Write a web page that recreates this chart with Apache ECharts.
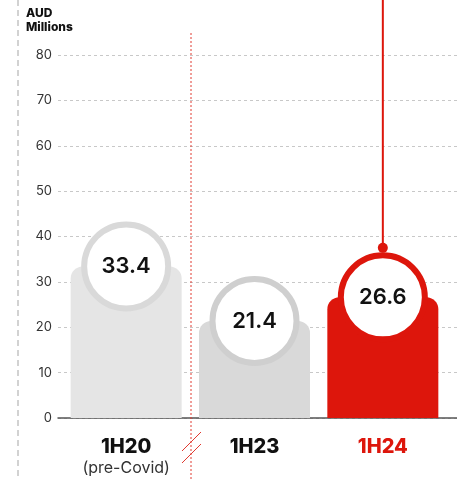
<!DOCTYPE html>
<html><head><meta charset="utf-8">
<script src="https://cdn.jsdelivr.net/npm/echarts@6/dist/echarts.min.js"></script>
<style>html,body{margin:0;padding:0;background:#fff}#c{width:457px;height:480px}</style>
</head><body><div id="c"></div>
<script>
const categories = ['1H20', '1H23', '1H24'];
const subLabels = ['(pre-Covid)', '', ''];
const values = [33.4, 21.4, 26.6];
const barColors = ['#e5e5e5', '#d9d9d9', '#dd160c'];
const ringColors = ['#d9d9d9', '#cfcfcf', '#dd160c'];
const labelColors = ['#111', '#111', '#dd160c'];
const yMax = 80, yInterval = 10;
const pinValue = 37.5;

const RED = '#dd160c';
const FONT = 'Inter, "Open Sans", sans-serif';
const gridTop = 55, gridBottom = 62, H = 480;
const topValue = yMax * (H - gridBottom) / (H - gridBottom - gridTop);

const chart = echarts.init(document.getElementById('c'), null, {renderer: 'canvas'});
chart.setOption({
  animation: false,
  backgroundColor: '#fff',
  textStyle: {fontFamily: FONT},
  title: {
    text: 'AUD\nMillions', left: 21, top: 1,
    textStyle: {fontSize: 12, fontWeight: 800, color: '#111', lineHeight: 14, fontFamily: FONT}
  },
  grid: [
    {left: 58, right: 0, top: gridTop, bottom: gridBottom},
    {left: 62, right: 10, top: 0, bottom: gridBottom}
  ],
  xAxis: [
    {gridIndex: 0, type: 'category', data: [''], axisTick: {show: false}, axisLabel: {show: false},
     axisLine: {lineStyle: {color: '#555', width: 1.5}}},
    {gridIndex: 1, type: 'category', data: categories.map((c, i) => ({value: c})),
     axisLine: {show: false}, axisTick: {show: false},
     axisLabel: {
       margin: 17,
       formatter: (v, i) => subLabels[i] ? '{b' + i + '|' + v + '}\n{s|' + subLabels[i] + '}' : '{b' + i + '|' + v + '}',
       rich: Object.assign({
         s: {fontSize: 16, color: '#333', lineHeight: 20, fontFamily: FONT}
       }, ...categories.map((c, i) => ({['b' + i]: {fontSize: 20, fontWeight: 800, color: labelColors[i], lineHeight: 23, fontFamily: FONT}})))
     }}
  ],
  yAxis: [
    {gridIndex: 0, type: 'value', min: 0, max: yMax, interval: yInterval,
     axisLine: {show: false}, axisTick: {show: false},
     axisLabel: {margin: 6, fontSize: 13, color: '#333', fontFamily: FONT},
     splitLine: {lineStyle: {color: '#c8c8c8', type: [3, 3], width: 1}}},
    {gridIndex: 1, type: 'value', min: 0, max: topValue, show: false, splitLine: {show: false}}
  ],
  graphic: [
    {type: 'line', shape: {x1: 18, y1: 0, x2: 18, y2: 480}, style: {stroke: '#d2d2d2', lineWidth: 2, lineDash: [6, 4]}, z: 1},
    {type: 'line', shape: {x1: 191, y1: 33, x2: 191, y2: 480}, style: {stroke: '#e03a30', lineWidth: 1, lineDash: [2, 2]}, z: 10},
    {type: 'line', shape: {x1: 182, y1: 451, x2: 201, y2: 432}, style: {stroke: '#e03a30', lineWidth: 1}, z: 10},
    {type: 'line', shape: {x1: 182, y1: 463, x2: 201, y2: 444}, style: {stroke: '#e03a30', lineWidth: 1}, z: 10}
  ],
  series: [
    {type: 'bar', xAxisIndex: 1, yAxisIndex: 1, barWidth: 111, z: 2,
     data: values.map((v, i) => ({value: v, itemStyle: {color: barColors[i], borderRadius: [12, 12, 0, 0]}}))},
    {type: 'line', xAxisIndex: 1, yAxisIndex: 1, z: 4,
     data: [{value: ['1H24', topValue], symbol: 'none'}, {value: ['1H24', pinValue], symbol: 'circle', symbolSize: 10}],
     itemStyle: {color: RED}, lineStyle: {color: RED, width: 2}},
    {type: 'scatter', xAxisIndex: 1, yAxisIndex: 1, z: 5, symbolSize: 84,
     data: values.map((v, i) => ({value: [categories[i], v], itemStyle: {color: '#fff', borderColor: ringColors[i], borderWidth: 6, opacity: 1}})),
     label: {show: true, position: 'inside', formatter: p => p.value[1].toFixed(1), fontSize: 22, fontWeight: 600, color: '#111', fontFamily: FONT}}
  ]
});
</script></body></html>
